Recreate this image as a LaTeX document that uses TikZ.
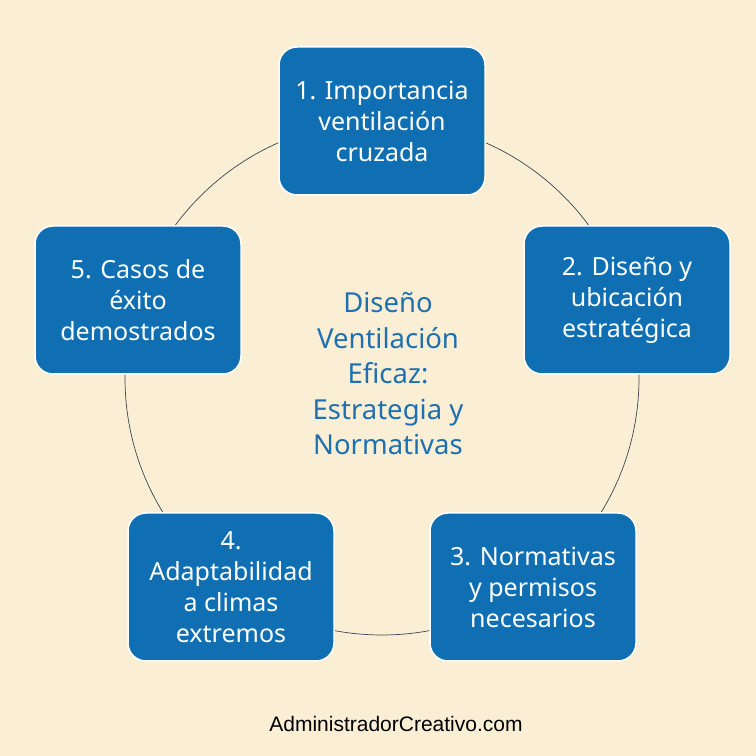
\documentclass[tikz,border=0pt]{standalone}
\usepackage{fontspec}
\setmainfont{Noto Sans}
\newfontfamily\footfont{Liberation Sans}
\definecolor{bg}{RGB}{250,239,212}
\definecolor{boxblue}{RGB}{15,111,178}
\definecolor{midblue}{RGB}{30,112,176}
\definecolor{ringcol}{RGB}{60,70,80}
\tikzset{
  x=1pt,y=1pt,
  topic/.style={rectangle, rounded corners=18pt, fill=boxblue, draw=white, line width=1.5pt,
    minimum width=206pt, minimum height=148pt, text=white, align=center,
    font=\fontsize{25}{31}\selectfont, inner sep=1pt},
  ringstyle/.style={circle, draw=ringcol, line width=0.7pt, minimum size=514pt, inner sep=0pt},
  centertext/.style={text=midblue, align=center, font=\fontsize{27.5}{35.5}\selectfont},
  foot/.style={font=\footfont\fontsize{21}{24}\selectfont, text=black, anchor=base}
}
\begin{document}
\begin{tikzpicture}
\fill[bg] (0,0) rectangle (756,756);
\useasboundingbox (0,0) rectangle (756,756);
\node[ringstyle] (ring) at (382,378) {};
\node[topic] (t1) at (382,635) {1. Importancia\\ventilación\\cruzada};
\node[topic] (t2) at (627,456) {2. Diseño y\\ubicación\\estratégica};
\node[topic] (t3) at (533,169) {3. Normativas\\y permisos\\necesarios};
\node[topic] (t4) at (231,169) {4.\\Adaptabilidad\\a climas\\extremos};
\node[topic] (t5) at (138,456) {5. Casos de\\éxito\\demostrados};
\node[centertext] (center) at (388,382) {Diseño\\Ventilación\\Eficaz:\\Estrategia y\\Normativas};
\node[foot] (footer) at (396,24.5) {AdministradorCreativo.com};
\end{tikzpicture}
\end{document}
